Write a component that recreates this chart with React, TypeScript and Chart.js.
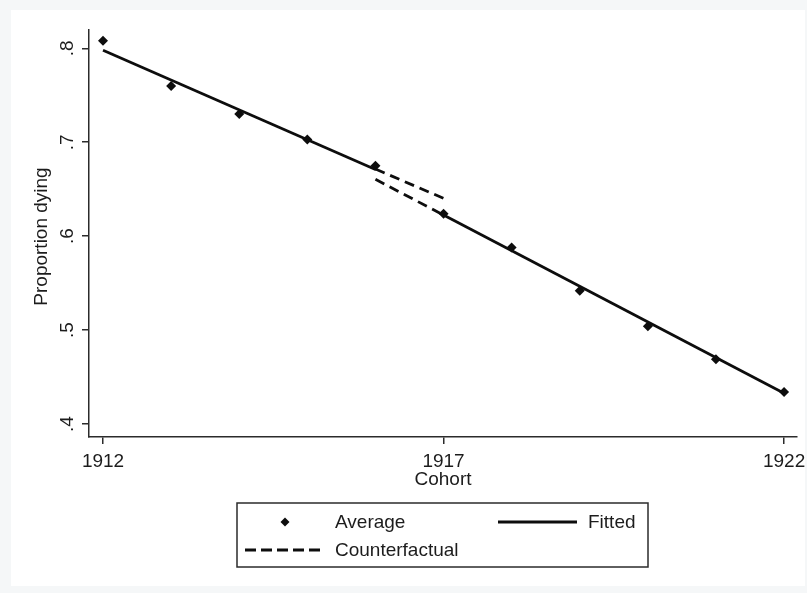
import { useEffect, useRef } from 'react';
import { Chart, registerables } from 'chart.js';

Chart.register(...registerables);

const cohorts = [1912, 1913, 1914, 1915, 1916, 1917, 1918, 1919, 1920, 1921, 1922];
const averageValues = [0.808, 0.760, 0.730, 0.703, 0.675, 0.624, 0.588, 0.542, 0.504, 0.469, 0.434];

const fittedPreCohorts = [1912, 1916];
const fittedPreValues = [0.798, 0.671];
const fittedPostCohorts = [1917, 1922];
const fittedPostValues = [0.6225, 0.4327];

const counterfactualPreCohorts = [1916, 1917];
const counterfactualPreValues = [0.6715, 0.6403];
const counterfactualPostCohorts = [1916, 1917];
const counterfactualPostValues = [0.6605, 0.6225];

const xTickValues = [1912, 1917, 1922];
const xTickLabels = ['1912', '1917', '1922'];
const yTickValues = [0.4, 0.5, 0.6, 0.7, 0.8];
const yTickLabels = ['.4', '.5', '.6', '.7', '.8'];

const xTitle = 'Cohort';
const yTitle = 'Proportion dying';
const legendLabels = ['Average', 'Fitted', 'Counterfactual'];

const FONT_FAMILY = '"Liberation Sans", Arial, Helvetica, sans-serif';
const FONT_SIZE = 19;
const TEXT_COLOR = '#1c1c1c';
const INK = '#0d0d0d';
const AXIS_COLOR = '#2b2b2b';

const pts = (xs: number[], ys: number[]) => xs.map((x, i) => ({ x, y: ys[i] }));

const decorPlugin = {
  id: 'stataDecor',
  beforeDraw(chart: any) {
    const { ctx, width, height } = chart;
    ctx.save();
    ctx.fillStyle = '#f5f7f8';
    ctx.fillRect(0, 0, width, height);
    ctx.fillStyle = '#ffffff';
    ctx.fillRect(11, 10, width - 13, height - 17);
    ctx.restore();
  },
  afterDraw(chart: any) {
    const { ctx, chartArea } = chart;
    const ys = chart.scales.y;
    ctx.save();
    ctx.font = `${FONT_SIZE}px ${FONT_FAMILY}`;
    ctx.fillStyle = TEXT_COLOR;
    yTickValues.forEach((v, i) => {
      const py = ys.getPixelForValue(v);
      ctx.save();
      ctx.translate(ys.right - 16, py);
      ctx.rotate(-Math.PI / 2);
      ctx.textAlign = 'center';
      ctx.textBaseline = 'alphabetic';
      ctx.fillText(yTickLabels[i], 0, 0);
      ctx.restore();
    });
    ctx.save();
    ctx.translate(47, (chartArea.top + chartArea.bottom) / 2 + 3);
    ctx.rotate(-Math.PI / 2);
    ctx.textAlign = 'center';
    ctx.textBaseline = 'alphabetic';
    ctx.fillText(yTitle, 0, 0);
    ctx.restore();

    const bx = 237, by = 503, bw = 411, bh = 64;
    ctx.strokeStyle = AXIS_COLOR;
    ctx.lineWidth = 1.5;
    ctx.strokeRect(bx, by, bw, bh);
    const row1 = 522, row2 = 550;
    ctx.fillStyle = INK;
    ctx.beginPath();
    const mx = 285, r = 4.5;
    ctx.moveTo(mx, row1 - r);
    ctx.lineTo(mx + r, row1);
    ctx.lineTo(mx, row1 + r);
    ctx.lineTo(mx - r, row1);
    ctx.closePath();
    ctx.fill();
    ctx.strokeStyle = INK;
    ctx.lineWidth = 2.8;
    ctx.beginPath();
    ctx.moveTo(498, row1);
    ctx.lineTo(577, row1);
    ctx.stroke();
    ctx.setLineDash([11, 5]);
    ctx.beginPath();
    ctx.moveTo(245, row2);
    ctx.lineTo(321, row2);
    ctx.stroke();
    ctx.setLineDash([]);
    ctx.fillStyle = TEXT_COLOR;
    ctx.textAlign = 'left';
    ctx.textBaseline = 'middle';
    ctx.fillText(legendLabels[0], 335, row1 + 1);
    ctx.fillText(legendLabels[1], 588, row1 + 1);
    ctx.fillText(legendLabels[2], 335, row2 + 1);
    ctx.restore();
  },
};

export default function App() {
  const canvasRef = useRef<HTMLCanvasElement | null>(null);

  useEffect(() => {
    const canvas = canvasRef.current;
    if (!canvas) return;
    const lineCommon = {
      showLine: true,
      pointRadius: 0,
      borderColor: INK,
      borderWidth: 2.8,
      fill: false,
      tension: 0,
    };
    const chart = new Chart(canvas, {
      type: 'scatter',
      data: {
        datasets: [
          { label: legendLabels[1], data: pts(fittedPreCohorts, fittedPreValues), ...lineCommon },
          { label: legendLabels[1], data: pts(fittedPostCohorts, fittedPostValues), ...lineCommon },
          {
            label: legendLabels[2],
            data: pts(counterfactualPreCohorts, counterfactualPreValues),
            ...lineCommon,
            borderDash: [10, 6],
          },
          {
            label: legendLabels[2],
            data: pts(counterfactualPostCohorts, counterfactualPostValues),
            ...lineCommon,
            borderDash: [10, 6],
          },
          {
            label: legendLabels[0],
            data: pts(cohorts, averageValues),
            showLine: false,
            pointStyle: 'rectRot',
            pointRadius: 5,
            backgroundColor: INK,
            borderColor: INK,
            borderWidth: 0,
          },
        ],
      },
      options: {
        responsive: false,
        animation: false,
        devicePixelRatio: 1,
        layout: { padding: { left: 0, top: 30, right: 10, bottom: 0 } },
        plugins: { legend: { display: false }, tooltip: { enabled: false } },
        scales: {
          x: {
            type: 'linear',
            min: 1911.794,
            max: 1922.19,
            afterBuildTicks: (s: any) => {
              s.ticks = xTickValues.map((v) => ({ value: v }));
            },
            afterFit: (s: any) => {
              s.height = 156;
              s.paddingLeft = 0;
              s.paddingRight = 0;
            },
            ticks: {
              autoSkip: false,
              maxRotation: 0,
              padding: 6,
              color: TEXT_COLOR,
              font: { size: FONT_SIZE, family: FONT_FAMILY },
              callback: (v: any) => {
                const i = xTickValues.indexOf(Number(v));
                return i >= 0 ? xTickLabels[i] : '';
              },
            },
            grid: {
              display: true,
              drawOnChartArea: false,
              drawTicks: true,
              tickLength: 7,
              color: AXIS_COLOR,
              lineWidth: 1.5,
            },
            border: { display: true, color: AXIS_COLOR, width: 1.5 },
            title: {
              display: true,
              text: xTitle,
              color: TEXT_COLOR,
              font: { size: FONT_SIZE, family: FONT_FAMILY },
              padding: { top: 0, bottom: 102 },
            },
          },
          y: {
            type: 'linear',
            min: 0.3862,
            max: 0.8195,
            afterBuildTicks: (s: any) => {
              s.ticks = yTickValues.map((v) => ({ value: v }));
            },
            afterFit: (s: any) => {
              s.width = 89;
              s.paddingTop = 0;
              s.paddingBottom = 0;
            },
            ticks: { display: false },
            grid: {
              display: true,
              drawOnChartArea: false,
              drawTicks: true,
              tickLength: 7,
              color: AXIS_COLOR,
              lineWidth: 1.5,
            },
            border: { display: true, color: AXIS_COLOR, width: 1.5 },
            title: { display: false },
          },
        },
      },
      plugins: [decorPlugin],
    } as any);
    return () => chart.destroy();
  }, []);

  return (
    <div style={{ position: 'absolute', left: 0, top: 0, width: 807, height: 593 }}>
      <canvas ref={canvasRef} width={807} height={593} style={{ display: 'block', width: 807, height: 593 }} />
    </div>
  );
}
